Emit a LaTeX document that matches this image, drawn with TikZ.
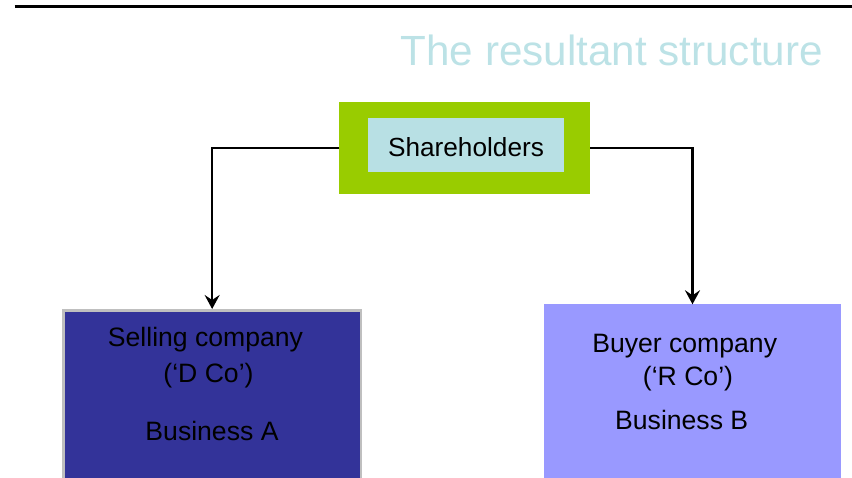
\documentclass[tikz,border=0pt]{standalone}
\usepackage{fontspec}
\setmainfont{Liberation Sans}
\usetikzlibrary{arrows.meta}
\definecolor{titlecol}{HTML}{BCE2E6}
\definecolor{innercol}{HTML}{B8E0E4}
\definecolor{greencol}{HTML}{99CC00}
\definecolor{sellcol}{HTML}{333399}
\definecolor{buycol}{HTML}{9999FF}
\definecolor{bordcol}{HTML}{BFBFBF}
\tikzset{
  box/.style={rectangle, inner sep=0pt, outer sep=0pt},
  lbl/.style={anchor=base, inner sep=0pt, font=\fontsize{26.6}{32}\selectfont},
  arr/.style={line width=2.3pt, -{Stealth[length=14pt,width=15pt,inset=5pt]}},
}
\begin{document}
\begin{tikzpicture}[x=1pt,y=-1pt]
\useasboundingbox (0,0) rectangle (852,478);
% top rule
\draw[line width=3pt] (14.7,6.3) -- (852,6.3);
% title
\node[anchor=base east, inner sep=0pt, text=titlecol, font=\fontsize{42.2}{50}\selectfont] (title) at (823,66) {The resultant structure};
% shareholders
\node[box, fill=greencol, minimum width=251pt, minimum height=92.3pt] (green) at (464.8,147.85) {};
\node[box, fill=innercol, minimum width=196.6pt, minimum height=54.3pt] (inner) at (466,145.2) {};
\node[lbl, font=\fontsize{26.2}{31}\selectfont] (sh) at (466,156.7) {Shareholders};
% selling company
\node[box, fill=sellcol, draw=bordcol, line width=2.6pt, minimum width=297.4pt, minimum height=180pt] (sell) at (212.15,400.3) {};
\node[lbl] (s1) at (205.5,346.7) {Selling company};
\node[lbl] (s2) at (208.5,382.7) {(‘D Co’)};
\node[lbl] (s3) at (212,440.7) {Business A};
% buyer company
\node[box, fill=buycol, minimum width=297pt, minimum height=180pt] (buy) at (692.5,394.3) {};
\node[lbl] (b1) at (684.7,352.3) {Buyer company};
\node[lbl] (b2) at (688,385.7) {(‘R Co’)};
\node[lbl] (b3) at (681.7,430) {Business B};
% connectors
\draw[arr] (green.west) -| ([yshift=1.3pt]sell.north);
\draw[arr] (green.east) -| (buy.north);
\end{tikzpicture}
\end{document}
